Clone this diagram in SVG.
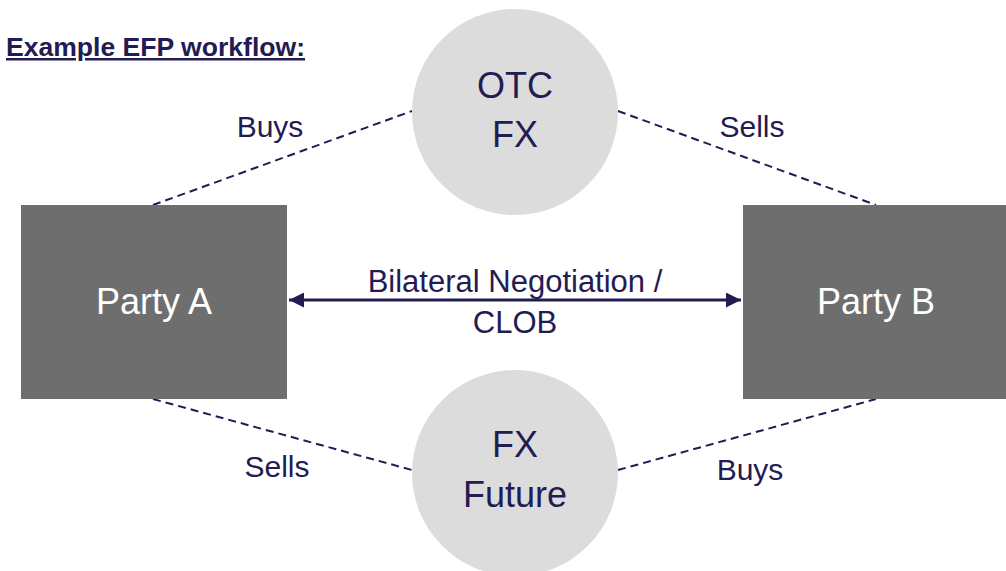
<svg xmlns="http://www.w3.org/2000/svg" width="1006" height="571" viewBox="0 0 1006 571">
<style>
.t{font-family:"Liberation Sans",Arial,sans-serif;fill:#231C52;text-anchor:middle}
.w{font-family:"Liberation Sans",Arial,sans-serif;fill:#FFFFFF;text-anchor:middle;font-size:36px}
.dash{stroke:#231C52;stroke-width:2;stroke-dasharray:8 5;fill:none}
.rect{fill:#6E6E6E}
.circ{fill:#DCDCDC}
</style>
<defs>
<marker id="ah" viewBox="0 0 10 10" refX="10" refY="5" markerWidth="6" markerHeight="5" markerUnits="strokeWidth" orient="auto-start-reverse">
<path d="M0,0 L10,5 L0,10 z" fill="#231C52"/>
</marker>
</defs>
<rect width="1006" height="571" fill="#FFFFFF"/>
<text x="6" y="56" font-family="Liberation Sans,Arial,sans-serif" font-weight="bold" font-size="25" fill="#231C52" textLength="299" lengthAdjust="spacingAndGlyphs" text-decoration="underline">Example EFP workflow:</text>
<g id="connectors">
<line class="dash" x1="153" y1="205" x2="412" y2="111"/>
<line class="dash" x1="618" y1="111" x2="876" y2="205"/>
<line class="dash" x1="153" y1="399" x2="412" y2="470"/>
<line class="dash" x1="618" y1="470" x2="876" y2="399"/>
<line x1="289" y1="300" x2="741" y2="300" stroke="#231C52" stroke-width="3" marker-start="url(#ah)" marker-end="url(#ah)"/>
<text class="t" x="515" y="292" font-size="31">Bilateral Negotiation /</text>
<text class="t" x="515" y="333" font-size="31">CLOB</text>
<text class="t" x="270" y="137" font-size="30">Buys</text>
<text class="t" x="752" y="137" font-size="30">Sells</text>
<text class="t" x="277" y="477" font-size="30">Sells</text>
<text class="t" x="750" y="480" font-size="30">Buys</text>
</g>
<g id="otc-fx">
<circle class="circ" cx="515" cy="112" r="103"/>
<text class="t" x="515" y="98" font-size="36">OTC</text>
<text class="t" x="515" y="147" font-size="36">FX</text>
</g>
<g id="fx-future">
<circle class="circ" cx="515" cy="473" r="103"/>
<text class="t" x="515" y="457" font-size="36">FX</text>
<text class="t" x="515" y="507" font-size="36">Future</text>
</g>
<g id="party-a">
<rect class="rect" x="21" y="205" width="266" height="194"/>
<text class="w" x="154" y="314">Party A</text>
</g>
<g id="party-b">
<rect class="rect" x="743" y="205" width="266" height="194"/>
<text class="w" x="876" y="314">Party B</text>
</g>
</svg>
